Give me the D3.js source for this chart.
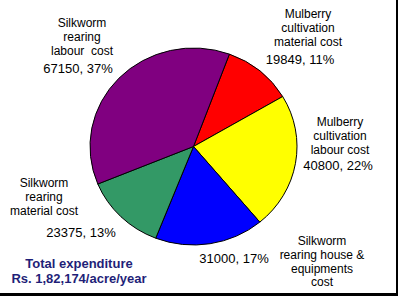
<!DOCTYPE html>
<html>
<head>
<meta charset="utf-8">
<script src="https://cdn.jsdelivr.net/npm/d3@7"></script>
<style>
  html, body { margin: 0; padding: 0; background: #fff; }
  svg { display: block; }
  text { font-family: "Liberation Sans", Arial, sans-serif; fill: #000; }
</style>
</head>
<body>
<svg id="chart" width="398" height="296"></svg>
<script>
// ---- data ----
const categories = [
  "Mulberry cultivation material cost",
  "Mulberry cultivation labour cost",
  "Silkworm rearing house & equipments cost",
  "Silkworm rearing material cost",
  "Silkworm rearing labour cost"
];
const values = [19849, 40800, 31000, 23375, 67150];
const percents = ["11%", "22%", "17%", "13%", "37%"];
const colors = ["#ff0000", "#ffff00", "#0000ff", "#339966", "#800080"];
const nameLines = [
  ["Mulberry", "cultivation", "material cost"],
  ["Mulberry", "cultivation", "labour cost"],
  ["Silkworm", "rearing house &", "equipments", "cost"],
  ["Silkworm", "rearing", "material cost"],
  ["Silkworm", "rearing", "labour  cost"]
];
const titleLines = ["Total expenditure", "Rs. 1,82,174/acre/year"];

// ---- layout (label positions) ----
const nameLayout = [
  {x: 308, y: 14, dy: 14},
  {x: 340, y: 122, dy: 14},
  {x: 322, y: 241, dy: 13.7},
  {x: 44, y: 183, dy: 14},
  {x: 82, y: 23, dy: 14}
];
const valueLayout = [
  {x: 300, y: 59},
  {x: 338, y: 165},
  {x: 234, y: 258},
  {x: 81, y: 232},
  {x: 78, y: 68}
];

const svg = d3.select("#chart");
const W = 398, H = 296;

// background & shadow border (right, bottom)
svg.append("rect").attr("x", 0).attr("y", 0).attr("width", W).attr("height", H).attr("fill", "#fff");
svg.append("rect").attr("x", 396).attr("y", 0).attr("width", 2).attr("height", H).attr("fill", "#000");
svg.append("rect").attr("x", 0).attr("y", 293).attr("width", W).attr("height", 3).attr("fill", "#000");

const cx = 193.5, cy = 146.5, rx = 103.5, ry = 98.5;
const start = 20.3 * Math.PI / 180;
const pie = d3.pie().sort(null).value(d => d).startAngle(start).endAngle(start + 2 * Math.PI);
const arc = d3.arc().innerRadius(0).outerRadius(rx);

const g = svg.append("g").attr("transform", `translate(${cx},${cy}) scale(1,${ry / rx})`);
g.selectAll("path")
  .data(pie(values))
  .join("path")
  .attr("d", arc)
  .attr("fill", (d, i) => colors[i])
  .attr("stroke", "#000")
  .attr("stroke-width", 1)
  .attr("vector-effect", "non-scaling-stroke");

// category labels
nameLines.forEach((lines, i) => {
  const L = nameLayout[i];
  lines.forEach((ln, j) => {
    svg.append("text")
      .attr("x", L.x).attr("y", L.y + j * L.dy)
      .attr("dy", "0.35em")
      .attr("text-anchor", "middle")
      .attr("font-size", 12)
      .attr("xml:space", "preserve")
      .style("white-space", "pre")
      .text(ln);
  });
});

// value labels
values.forEach((v, i) => {
  const L = valueLayout[i];
  svg.append("text")
    .attr("x", L.x).attr("y", L.y)
    .attr("dy", "0.35em")
    .attr("text-anchor", "middle")
    .attr("font-size", 13)
    .text(`${v}, ${percents[i]}`);
});

// title
titleLines.forEach((t, j) => {
  svg.append("text")
    .attr("x", 79).attr("y", 263 + j * 15)
    .attr("dy", "0.35em")
    .attr("text-anchor", "middle")
    .attr("font-size", 13)
    .attr("font-weight", "bold")
    .style("fill", "#1f1f78")
    .text(t);
});
</script>
</body>
</html>
